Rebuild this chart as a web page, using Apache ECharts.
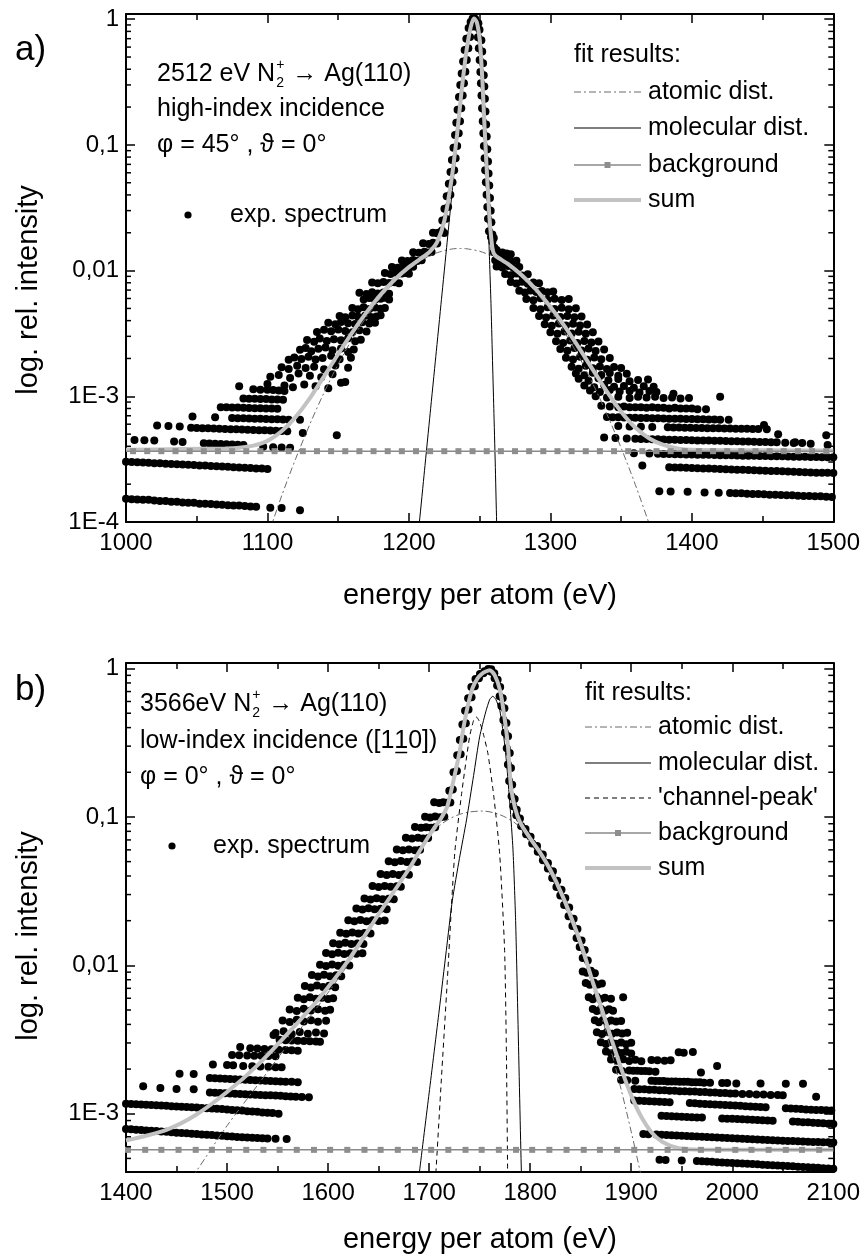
<!DOCTYPE html>
<html><head><meta charset="utf-8">
<script src="https://cdn.jsdelivr.net/npm/echarts@6/dist/echarts.min.js"></script>
<style>html,body{margin:0;padding:0;background:#fff}#c{width:863px;height:1256px}</style>
</head><body><div id="c"></div>
<script>
// ---------------- axis / tick data ----------------
const xRangeA = [1000, 1500];
const xRangeB = [1400, 2100];
const yRangeA = [1e-4, 1.1];
const yRangeB = [4.05e-4, 1.09];
const yTickExp = [-4, -3, -2, -1, 0];
const yTickText = ['1E-4', '1E-3', '0,01', '0,1', '1'];
const yMinorTicks = [2e-4,3e-4,4e-4,5e-4,6e-4,7e-4,8e-4,9e-4,2e-3,3e-3,4e-3,5e-3,6e-3,7e-3,8e-3,9e-3,0.02,0.03,0.04,0.05,0.06,0.07,0.08,0.09,0.2,0.3,0.4,0.5,0.6,0.7,0.8,0.9];

// ---------------- panel a: fit curves ----------------
const atomicA = [[1098,0.000066],[1100,0.000076],[1110,0.000161],[1120,0.00032],[1130,0.0006],[1140,0.00107],[1150,0.0018],[1160,0.00286],[1170,0.00428],[1180,0.00607],[1190,0.00813],[1200,0.01028],[1210,0.0123],[1220,0.01388],[1230,0.01483],[1236.5,0.0150],[1240,0.01495],[1250,0.01425],[1260,0.01283],[1270,0.01091],[1280,0.00877],[1290,0.00667],[1300,0.00479],[1310,0.00324],[1320,0.00208],[1330,0.00126],[1340,0.00072],[1350,0.000389],[1360,0.000199],[1370,0.000096],[1372,0.000085]];
const molecularA = [[1205,0.000059],[1207.4,0.0001],[1211,0.000256],[1215,0.00073],[1219,0.00207],[1223,0.0059],[1227,0.0168],[1231,0.0477],[1234,0.105],[1237,0.24],[1240,0.48],[1242,0.68],[1244,0.88],[1246,1.0],[1248,0.93],[1250,0.68],[1251,0.48],[1252,0.30],[1253,0.165],[1254,0.09],[1255,0.05],[1256,0.026],[1257,0.012],[1258,0.0055],[1259,0.0021],[1260,0.0008],[1261,0.0003],[1262,0.0001],[1263,0.00004]];
const sumA = [[1000,0.000375],[1040,0.00038],[1070,0.000385],[1080,0.00039],[1090,0.000405],[1100,0.000442],[1110,0.000527],[1120,0.000686],[1130,0.000966],[1140,0.00144],[1150,0.00217],[1160,0.00323],[1170,0.00465],[1180,0.00644],[1190,0.0085],[1200,0.01065],[1210,0.01286],[1215,0.01425],[1220,0.0169],[1225,0.0248],[1230,0.052],[1234,0.12],[1237,0.255],[1240,0.495],[1242,0.695],[1244,0.895],[1246,1.015],[1248,0.945],[1250,0.695],[1251,0.495],[1252,0.315],[1253,0.18],[1254,0.105],[1255,0.064],[1256,0.0397],[1257,0.0257],[1258,0.019],[1259,0.0152],[1260,0.0137],[1262,0.0129],[1270,0.0113],[1280,0.00914],[1290,0.00704],[1300,0.00516],[1310,0.00361],[1320,0.00245],[1330,0.00163],[1340,0.00109],[1350,0.000755],[1360,0.000565],[1370,0.000462],[1380,0.00041],[1390,0.000385],[1400,0.000375],[1450,0.000372],[1500,0.00037]];
const bgLevelA = 3.66e-4;
const bgMarkersA = [1005,1015,1025,1035,1045,1055,1065,1075,1085,1095,1105,1115,1125,1135,1145,1155,1165,1175,1185,1195,1205,1215,1225,1235,1245,1255,1265,1275,1285,1295,1305,1315,1325,1335,1345,1355,1365,1375,1385,1395,1405,1415,1425,1435,1445,1455,1465,1475,1485,1495];

// ---------------- panel a: experimental points (intensity in units of 1E-4) ----------------
const expA_bandsLeft = [
[1000,1.53],[1004,1.52],[1008,1.51],[1012,1.50],[1016,1.50],[1020,1.48],[1024,1.47],[1028,1.47],[1032,1.45],[1036,1.45],[1040,1.43],[1044,1.42],[1048,1.42],[1052,1.40],[1056,1.40],[1060,1.39],[1064,1.38],[1068,1.37],[1072,1.36],[1076,1.35],[1080,1.35],[1084,1.34],[1088,1.33],[1092,1.32],[1102,1.30],[1110,1.29],[1123,1.24],
[1000,3.02],[1004,3.00],[1008,2.99],[1012,2.97],[1016,2.96],[1020,2.94],[1024,2.93],[1028,2.91],[1032,2.90],[1036,2.88],[1040,2.87],[1044,2.85],[1048,2.84],[1052,2.82],[1056,2.81],[1060,2.79],[1064,2.78],[1068,2.76],[1072,2.75],[1076,2.73],[1080,2.72],[1084,2.70],[1088,2.69],[1092,2.67],[1096,2.66],[1100,2.64],
[1006,4.50],[1013,4.48],[1020,4.46],[1034,4.36],[1040,4.33],[1055,4.24],[1059,4.22],[1063,4.20],[1067,4.18],[1071,4.16],[1075,4.14],[1079,4.12],[1083,4.10],[1097,3.97],[1104,3.94],[1110,3.92],[1116,3.90],
[1022,5.85],[1030,5.80],[1038,5.75],[1046,5.62],[1050,5.60],[1054,5.58],[1058,5.56],[1062,5.54],[1066,5.52],[1070,5.50],[1074,5.48],[1078,5.46],[1082,5.44],[1086,5.42],[1090,5.40],[1094,5.38],[1098,5.36],[1102,5.34],[1106,5.32],[1110,5.30],[1114,5.28],[1125,5.10],
[1047,6.90],[1063,6.80],[1075,6.72],[1079,6.70],[1083,6.68],[1087,6.66],[1091,6.64],[1095,6.62],[1099,6.60],[1103,6.58],[1107,6.56],[1111,6.54],[1115,6.52],[1123,6.50],
[1067,8.20],[1071,8.18],[1075,8.15],[1079,8.13],[1083,8.10],[1087,8.08],[1091,8.05],[1095,8.03],[1099,8.00],[1103,7.98],[1107,7.95],
[1083,9.60],[1087,9.55],[1091,9.55],[1095,9.50],[1099,9.50],[1103,9.45],[1107,9.45],[1111,9.40],
[1080,12.0],[1090,11.4],[1095,11.3],[1100,11.3],[1104,11.2],[1108,11.1],[1112,11.0],[1149,4.9]];
const expA_cloudLeft = [
[1100,12.5],[1112,12.2],[1118,11.8],[1126,12.4],[1134,12.0],[1143,11.6],[1152,12.8],
[1102,14.3],[1108,14.8],[1116,14.0],[1122,15.2],[1130,14.6],[1138,14.2],[1146,15.0],[1155,13.0],
[1110,17.0],[1115,16.5],[1121,17.5],[1127,16.8],[1133,17.2],[1140,16.4],[1148,17.6],[1157,16.9],
[1115,19.5],[1119,20.4],[1124,19.8],[1129,20.6],[1134,19.6],[1139,20.2],[1145,21.0],[1151,19.7],[1159,20.3],
[1123,23.5],[1127,24.2],[1131,22.8],[1136,23.9],[1141,24.5],[1146,23.2],[1152,24.0],[1157,22.5],[1161,23.6],
[1128,28.0],[1133,27.2],[1137,28.8],[1142,27.6],[1147,28.5],[1152,27.9],[1157,29.0],[1162,27.4],[1166,28.2],
[1135,32.5],[1140,33.8],[1145,32.9],[1150,34.0],[1155,33.1],[1160,32.4],[1165,33.6],[1170,32.8],
[1143,38.5],[1148,37.4],[1152,39.0],[1157,38.2],[1162,37.6],[1167,38.9],[1172,37.9],[1176,38.4],
[1151,43.5],[1155,42.6],[1160,44.0],[1164,42.9],[1169,43.8],[1173,42.7],[1177,43.2],[1180,44.1],
[1160,50.5],[1164,49.2],[1168,51.0],[1172,49.6],[1176,50.8],[1180,49.8],[1183,50.3],
[1168,59.0],[1172,60.5],[1176,58.6],[1180,59.8],[1183,60.7],[1186,58.9],
[1165,66.5],[1170,65.2],[1174,67.3],[1178,65.8],[1182,66.9],[1186,65.5],
[1174,80.5],[1178,79.2],[1182,81.3],[1186,79.8],[1190,80.9],[1193,79.5],
[1183,95.5],[1187,94.0],[1191,96.2],[1195,94.8],[1198,95.7],[1200,94.5],
[1188,107],[1192,105.5],[1196,108],[1200,106],[1203,107.5],
[1195,120.5],[1199,119],[1203,121.5],[1206,119.5],[1209,120.8],
[1203,140],[1207,138.5],[1211,141.5],[1214,139.2],[1216,140.8],
[1210,165],[1214,163],[1217,166.5],[1220,164.2],
[1217,200],[1220,198],[1223,203],[1225,199]];
const expA_peak = [
[1220.8,200],[1223.4,208],[1223.6,250],[1226.2,258],[1225.1,310],[1227.7,320],[1226.7,390],[1229.3,402],[1228.2,490],[1230.8,505],[1229.4,610],[1232.0,628],[1230.4,760],[1233.0,783],[1231.5,950],[1234.1,978],[1232.6,1200],[1235.2,1236],[1233.5,1500],[1236.1,1545],[1234.4,1900],[1237.0,1957],[1235.4,2400],[1238.0,2472],[1236.3,3000],[1238.9,3090],[1237.3,3700],[1239.9,3811],[1238.3,4600],[1240.9,4738],[1239.4,5700],[1242.0,5871],[1240.6,7000],[1243.2,7210],[1242.2,8500],[1244.8,8755],[1243.6,9500],[1246.0,9700],[1245.0,10150],[1246.8,10100],
[1246.7,9650],[1249.1,9300],[1247.5,8700],[1249.9,8250],[1248.8,7200],[1251.2,6800],[1249.4,5870],[1251.8,5530],[1250.0,4740],[1252.4,4460],[1250.5,3810],[1252.9,3590],[1250.9,3090],[1253.3,2910],[1251.3,2470],[1253.7,2330],[1251.7,1960],[1254.1,1840],[1252.2,1545],[1254.6,1455],[1252.6,1236],[1255.0,1164],[1253.0,978],[1255.4,922],[1253.5,783],[1255.9,737],[1253.9,628],[1256.3,592],[1254.4,505],[1256.8,475],[1254.9,402],[1257.3,378],[1255.4,320],[1257.8,300],[1255.9,258],[1258.3,242],[1256.6,206],[1259.0,194]];
const expA_cloudRight = [
[1258,185],[1260,182],[1259,170],[1260.5,152],[1262,146],[1264,131],[1267,128],[1270,125],
[1260,140],[1263,136],[1266,139],[1269,137],[1272,135],
[1261,121],[1265,119],[1269,122],[1273,118],[1276,120],
[1262,108],[1266,106],[1270,109],[1274,105],[1278,107],
[1268,94],[1272,92],[1276,95],[1280,91.5],[1284,93.5],
[1272,81],[1276,79],[1280,81.5],[1284,78.5],[1288,80.5],[1292,79.2],
[1278,69],[1282,67],[1286,69.5],[1290,67.5],[1294,68.8],[1298,67.2],[1302,68.3],
[1283,59.5],[1288,58.2],[1293,60.2],[1298,58.6],[1303,59.8],[1308,58.3],[1313,59.4],
[1288,50.5],[1293,49.2],[1298,51],[1303,49.5],[1308,50.6],[1313,49.3],[1318,50.2],
[1292,43.5],[1297,42.4],[1302,44],[1307,42.7],[1312,43.6],[1317,42.5],[1322,43.2],
[1296,37.5],[1301,36.4],[1306,37.9],[1311,36.6],[1316,37.7],[1321,36.5],[1326,37.2],
[1300,32.4],[1305,31.5],[1310,32.8],[1315,31.6],[1320,32.6],[1325,31.4],[1330,32.3],
[1304,27.4],[1309,26.6],[1314,27.8],[1319,26.5],[1324,27.6],[1329,26.8],[1334,27.3],
[1307,23.8],[1312,23.0],[1317,24.2],[1322,23.1],[1327,24.0],[1332,22.9],[1338,23.6],
[1311,20.3],[1316,19.6],[1321,20.6],[1326,19.5],[1331,20.4],[1336,19.7],[1342,20.2],
[1315,17.2],[1320,16.6],[1325,17.5],[1330,16.7],[1335,17.3],[1340,16.5],[1345,17.1],[1350,16.8],
[1318,15.2],[1324,14.7],[1330,15.4],[1336,14.8],[1342,15.3],[1348,14.6],[1354,15.1],
[1320,13.8],[1327,13.3],[1334,13.9],[1341,13.4],[1348,13.7],[1356,13.2],[1362,13.5],[1369,13.6],
[1324,12.2],[1331,11.8],[1338,12.3],[1345,11.9],[1352,12.1],[1359,11.7],[1366,12.0],[1373,11.9],
[1328,11.1],[1335,10.8],[1342,11.2],[1349,10.9],[1356,11.0],[1363,10.7],[1370,11.0],[1375,10.8],[1387,10.5]];
const expA_bandsRight = [
[1332,10.0],[1340,9.8],[1348,9.9],[1356,9.7],[1362,9.9],[1368,9.8],[1374,9.9],[1380,9.7],[1386,9.8],[1392,9.6],[1398,9.7],[1420,9.9],
[1336,8.4],[1342,8.3],[1348,8.2],[1352,8.3],[1356,8.2],[1360,8.2],[1364,8.2],[1368,8.1],[1372,8.2],[1376,8.1],[1380,8.1],[1384,8.0],[1388,8.1],[1392,8.0],[1396,8.0],[1400,8.0],[1404,7.9],[1410,7.9],
[1340,6.85],[1344,6.80],[1348,6.82],[1352,6.78],[1356,6.76],[1360,6.74],[1364,6.72],[1368,6.72],[1372,6.70],[1376,6.68],[1380,6.66],[1384,6.64],[1388,6.64],[1392,6.62],[1396,6.60],[1400,6.60],[1404,6.58],[1408,6.56],[1412,6.55],[1416,6.54],[1420,6.52],[1426,6.50],
[1451,5.9],[1461,5.0],[1473,4.3],[1495,4.9],[1496,4.1],
[1348,5.80],[1356,5.75],[1364,5.72],[1372,5.70],[1383,5.66],[1387,5.65],[1391,5.64],[1395,5.63],[1399,5.62],[1403,5.60],[1407,5.59],[1411,5.58],[1415,5.57],[1419,5.56],[1423,5.55],[1427,5.54],[1431,5.53],[1435,5.52],[1439,5.51],[1443,5.50],[1447,5.49],[1453,5.48],
[1338,4.70],[1346,4.65],[1354,4.62],[1360,4.60],[1364,4.58],[1368,4.57],[1372,4.56],[1376,4.55],[1380,4.54],[1384,4.52],[1388,4.51],[1392,4.50],[1396,4.49],[1400,4.48],[1404,4.46],[1408,4.45],[1412,4.44],[1416,4.43],[1420,4.42],[1424,4.40],[1428,4.39],[1432,4.38],[1436,4.37],[1440,4.36],[1444,4.34],[1448,4.33],[1452,4.32],[1456,4.31],[1460,4.30],[1466,4.28],[1472,4.26],[1478,4.25],[1484,4.20],
[1359,3.52],[1370,3.50],[1376,3.49],[1380,3.48],[1384,3.47],[1388,3.46],[1392,3.46],[1396,3.45],[1400,3.44],[1404,3.43],[1408,3.43],[1412,3.42],[1416,3.41],[1420,3.40],[1424,3.40],[1428,3.39],[1432,3.38],[1436,3.37],[1440,3.37],[1444,3.36],[1448,3.35],[1452,3.35],[1456,3.34],[1460,3.33],[1464,3.33],[1468,3.32],[1472,3.31],[1476,3.31],[1480,3.30],[1484,3.29],[1488,3.29],[1492,3.28],[1496,3.27],[1500,3.27],
[1365,2.82],[1384,2.73],[1388,2.72],[1392,2.71],[1396,2.70],[1400,2.69],[1404,2.68],[1408,2.67],[1412,2.66],[1416,2.65],[1420,2.64],[1424,2.63],[1428,2.62],[1432,2.61],[1436,2.60],[1440,2.59],[1444,2.58],[1448,2.57],[1452,2.56],[1456,2.55],[1460,2.54],[1464,2.53],[1468,2.52],[1472,2.51],[1476,2.50],[1480,2.49],[1484,2.48],[1488,2.47],[1492,2.46],[1496,2.46],[1500,2.45],
[1377,1.76],[1385,1.75],[1397,1.74],[1409,1.72],[1419,1.71],[1427,1.70],[1431,1.69],[1435,1.69],[1439,1.68],[1443,1.67],[1447,1.67],[1451,1.66],[1455,1.65],[1459,1.65],[1463,1.64],[1467,1.63],[1471,1.63],[1475,1.62],[1479,1.61],[1483,1.61],[1487,1.60],[1491,1.60],[1495,1.59],[1499,1.58]];

// ---------------- panel b: fit curves ----------------
const atomicB = [[1440,0.00021],[1469,0.000404],[1500,0.00083],[1530,0.00155],[1560,0.0029],[1590,0.0053],[1620,0.0102],[1650,0.0215],[1680,0.044],[1700,0.073],[1710,0.087],[1720,0.097],[1730,0.104],[1740,0.108],[1753,0.1096],[1770,0.1035],[1786,0.090],[1800,0.0711],[1820,0.0433],[1840,0.0209],[1860,0.00785],[1870,0.00469],[1880,0.00267],[1890,0.00146],[1900,0.000757],[1909,0.000404],[1915,0.00026]];
const molecularB = [[1686,0.00022],[1690.4,0.000404],[1700,0.00138],[1710,0.005],[1717,0.0126],[1723,0.0275],[1730,0.0525],[1737,0.0955],[1744,0.19],[1750,0.347],[1756,0.51],[1760,0.62],[1763,0.65],[1766,0.62],[1770,0.52],[1774,0.34],[1776.4,0.24],[1780,0.12],[1783,0.06],[1785.6,0.02],[1788,0.004],[1791.3,0.000404],[1793,0.0002]];
const channelB = [[1705,0.0003],[1706.7,0.000404],[1712,0.00166],[1718,0.0079],[1725.3,0.0565],[1732,0.141],[1740,0.346],[1744,0.447],[1746.7,0.472],[1750,0.437],[1754,0.355],[1758.2,0.267],[1764,0.138],[1769.8,0.0565],[1774.7,0.0126],[1776.5,0.0025],[1777.7,0.000404],[1778.5,0.00016]];
const sumB = [[1400,0.00066],[1440,0.00078],[1469,0.00098],[1500,0.0014],[1530,0.00212],[1560,0.00347],[1590,0.00587],[1620,0.0108],[1650,0.0221],[1680,0.0446],[1690,0.058],[1700,0.075],[1706,0.086],[1712,0.0985],[1718,0.118],[1724,0.175],[1730,0.27],[1734,0.40],[1738,0.55],[1743,0.74],[1748,0.86],[1752,0.92],[1756,0.955],[1760,0.975],[1765,0.90],[1770,0.72],[1774,0.50],[1778,0.30],[1781,0.16],[1785,0.115],[1790,0.092],[1800,0.0717],[1810,0.0573],[1820,0.0439],[1832,0.0294],[1845,0.0175],[1854,0.0116],[1862,0.0077],[1870,0.0053],[1881,0.0031],[1892,0.00185],[1900,0.00133],[1909,0.00098],[1920,0.00075],[1931,0.000645],[1947,0.000585],[1970,0.000572],[2100,0.000571]];
const bgLevelB = 5.71e-4;
const bgMarkersB = [1402,1419,1435,1452,1469,1485,1502,1519,1536,1552,1569,1586,1602,1619,1636,1652,1669,1686,1702,1719,1736,1752,1769,1786,1802,1819,1836,1853,1869,1886,1903,1919,1936,1953,1969,1986,2003,2019,2036,2053,2069,2086];

// ---------------- panel b: experimental points (units of 1E-4) ----------------
const expB_bandsLeft = [
[1400,7.90],[1405,7.85],[1410,7.80],[1415,7.76],[1420,7.72],[1425,7.68],[1430,7.64],[1435,7.60],[1440,7.55],[1445,7.50],[1450,7.46],[1455,7.42],[1460,7.38],[1465,7.34],[1470,7.30],[1475,7.26],[1480,7.22],[1485,7.18],[1490,7.14],[1495,7.10],[1500,7.06],[1505,7.02],[1510,6.98],[1515,6.95],[1520,6.92],[1525,6.89],[1530,6.86],[1535,6.83],[1540,6.80],[1548,6.78],[1559,6.75],
[1400,11.7],[1405,11.65],[1410,11.6],[1415,11.55],[1420,11.5],[1425,11.45],[1430,11.4],[1435,11.35],[1440,11.3],[1445,11.25],[1450,11.2],[1455,11.15],[1460,11.1],[1465,11.05],[1470,11.0],[1475,10.95],[1480,10.9],[1485,10.85],[1490,10.8],[1495,10.75],[1500,10.7],[1505,10.6],[1510,10.55],[1515,10.5],[1520,10.4],[1525,10.35],[1530,10.3],[1535,10.2],[1540,10.15],[1545,10.1],[1551,10.0],
[1417,15.3],[1434,14.9],[1450,14.7],[1467,14.6],[1483,13.9],[1488,13.85],[1493,13.8],[1498,13.75],[1503,13.7],[1508,13.65],[1513,13.6],[1518,13.55],[1523,13.5],[1528,13.45],[1533,13.4],[1538,13.35],[1543,13.3],[1548,13.25],[1553,13.2],[1558,13.1],[1563,13.05],[1568,13.0],[1574,12.95],[1581,12.9],
[1453,18.6],[1467,18.5],[1483,17.4],[1488,17.35],[1493,17.3],[1498,17.2],[1503,17.15],[1508,17.1],[1513,17.0],[1518,16.95],[1523,16.9],[1528,16.8],[1533,16.75],[1538,16.7],[1543,16.6],[1548,16.55],[1553,16.5],[1558,16.45],[1564,16.4],[1570,16.3],
[1486,21.5],[1500,21.3],[1506,21.2],[1516,21.0],[1525,20.9],[1533,20.8],[1541,20.7],[1548,20.6],[1554,20.6],
[1505,24.9],[1512,24.8],[1520,24.7],[1527,24.6],[1534,24.6],[1541,24.5],[1548,24.4],
[1513,28.2],[1523,27.6],[1530,27.5],[1537,27.3],[1544,27.2],[1551,27.0],[1558,26.9],[1564,26.8],[1570,26.6],
[1546,34.0],[1552,31.5],[1558,31.3],[1564,31.2],[1570,31.0],[1576,30.9],[1582,30.8],[1588,30.7],[1592,30.6]];
const expB_cloudLeft = [
[1548,35],[1556,36],[1564,34.5],[1572,35.5],[1580,34.6],[1588,35.3],[1596,34.8],
[1555,42.5],[1562,41.5],[1569,43],[1576,41.8],[1583,42.6],[1590,41.7],[1598,42.3],
[1562,50.5],[1569,49.3],[1576,51],[1583,49.6],[1590,50.7],[1597,49.5],[1602,50.2],
[1570,60.5],[1576,59.2],[1582,61],[1588,59.5],[1594,60.6],[1600,59.4],[1605,60.1],
[1577,72.5],[1583,71],[1589,73.2],[1595,71.5],[1601,72.8],[1607,71.3],
[1584,86],[1590,84.2],[1596,86.5],[1602,84.5],[1608,85.8],[1613,84.6],
[1592,101],[1598,99],[1604,101.5],[1610,99.5],[1616,100.8],[1621,99.6],
[1598,121],[1604,119],[1610,121.5],[1616,119.2],[1622,120.8],[1628,119.5],[1634,120.5],
[1605,141],[1611,139],[1617,141.8],[1623,139.2],[1629,140.6],[1635,139.5],
[1612,166],[1618,163.5],[1624,166.8],[1630,164],[1636,165.5],[1642,164.2],
[1620,201],[1626,198],[1632,202],[1638,198.5],[1644,201.2],[1650,199],[1656,200.5],
[1628,242],[1634,238],[1640,243],[1646,238.5],[1652,241],[1658,239],
[1636,282],[1642,278],[1648,283],[1654,278.5],[1660,281],[1665,279],
[1644,342],[1650,337],[1656,343],[1662,338],[1668,341],[1672,339],
[1652,412],[1658,406],[1664,413],[1670,407],[1675,411],[1680,408],
[1660,503],[1666,496],[1672,504],[1678,497],[1683,501],[1688,498],
[1668,603],[1674,596],[1680,604],[1686,597],[1691,601],
[1677,724],[1683,715],[1689,725],[1694,716],[1699,721],
[1686,855],[1692,845],[1697,853],[1702,846],[1706,851],
[1696,1005],[1701,992],[1706,1008],[1711,995],[1715,1002],
[1705,1255],[1710,1240],[1714,1258],[1718,1245],[1721,1250]];
const expB_peak = [
[1720,1500],[1723.4,1530],[1724.1,2000],[1727.5,2040],[1727.8,2600],[1731.2,2650],[1730.4,3300],[1733.8,3360],[1732.9,4200],[1736.3,4280],[1735.6,5200],[1739,5300],[1738.6,6300],[1742,6400],[1741.8,7500],[1745.2,7600],[1745.9,8500],[1749.3,8600],[1750.3,9200],[1753.7,9300],[1754.8,9600],[1758.2,9700],[1758.5,9950],[1761.5,9900],
[1761.5,9500],[1764.5,9300],[1764.8,8600],[1767.8,8400],[1767.3,7700],[1770.3,7500],[1769.8,6500],[1772.8,6300],[1771.5,5600],[1774.5,5400],[1773.5,4500],[1776.5,4300],[1775.1,3700],[1778.1,3500],[1776.8,2900],[1779.8,2700],[1778,2260],[1781,2140],[1779.2,1750],[1782.2,1650],[1781.6,1380],[1784.6,1320],[1783.3,1180],[1786.7,1120],[1786.3,1025],[1789.9,975],[1791,870],[1795.4,830],[1796,765],[1800.4,735],[1802,663],[1806.8,637],[1807.5,582],[1812.5,558],[1812.6,510],[1817.6,490],[1817.5,449],[1822.5,431],[1821.8,388],[1826.8,372],[1826,337],[1831,323],[1829.8,296],[1834.8,284],[1833.6,255],[1838.6,245],[1838,214],[1843,206],[1841.8,184],[1846.8,176],[1845.9,153],[1850.9,147],[1849,133],[1854,127],[1852,112],[1857,108]];
const expB_cloudRight = [
[1852,91],[1856,89],[1860,92],[1864,88.5],
[1855,76],[1859,74],[1863,76.5],[1867,74.2],[1871,75.5],
[1858,61],[1862,59],[1866,61.5],[1870,59.3],[1874,60.6],[1880,59.5],[1892,61],
[1862,50.8],[1866,49.3],[1870,51],[1874,49.5],[1878,50.6],[1882,49.4],
[1864,42.6],[1868,41.4],[1872,42.8],[1876,41.6],[1880,42.5],[1885,41.8],[1890,42.2],
[1866,35.4],[1871,34.5],[1876,35.6],[1881,34.6],[1886,35.3],[1891,34.7],[1896,35.1],
[1870,30.3],[1875,29.5],[1880,30.5],[1885,29.6],[1890,30.2],[1895,29.4],[1900,30.1],
[1875,26.3],[1880,25.6],[1885,26.5],[1890,25.7],[1895,26.2],[1900,25.5],[1947,26.0],[1952,25.8],[1961,26.1]];
const expB_bandsRight = [
[1880,23.2],[1886,22.8],[1892,23.3],[1898,22.7],[1904,23.1],[1910,22.6],[1920,23.0],[1926,22.9],[1933,22.8],[1939,22.9],
[1885,19.8],[1891,19.4],[1898,19.6],[1902,19.5],[1906,19.5],[1910,19.4],[1914,19.4],[1918,19.3],[1924,19.2],[1969,19.0],[1985,21.0],
[1890,16.9],[1896,16.8],[1904,16.7],[1920,16.7],[1924,16.6],[1928,16.6],[1932,16.6],[1936,16.5],[1940,16.5],[1944,16.5],[1948,16.4],[1952,16.4],[1956,16.4],[1960,16.3],[1964,16.3],[1968,16.3],[1972,16.2],[1978,16.2],[1990,16.1],[1995,16.1],[2004,16.0],[2028,16.0],[2053,15.9],[2070,15.9],
[1903,14.7],[1908,14.6],[1913,14.6],[1918,14.5],[1923,14.5],[1928,14.4],[1933,14.4],[1938,14.3],[1943,14.3],[1948,14.2],[1953,14.2],[1958,14.1],[1963,14.1],[1968,14.0],[1973,14.0],[1978,13.9],[1983,13.9],[1988,13.8],[1993,13.8],[1998,13.7],[2003,13.7],[2010,13.6],[2017,13.6],[2024,13.5],[2031,13.5],[2038,13.4],[2045,13.4],[2050,13.3],[2083,13.0],
[1903,12.3],[1908,12.25],[1913,12.2],[1918,12.15],[1923,12.1],[1928,12.05],[1933,12.0],[1938,11.95],[1958,11.8],[1963,11.75],[1968,11.7],[1973,11.65],[1978,11.6],[1983,11.55],[1988,11.5],[1993,11.45],[1998,11.4],[2003,11.35],[2008,11.3],[2013,11.25],[2018,11.2],[2023,11.15],[2028,11.1],[2033,11.05],[2053,10.9],[2058,10.85],[2063,10.8],[2068,10.75],[2073,10.7],[2078,10.65],[2083,10.6],[2088,10.58],[2093,10.55],[2098,10.5],
[1930,9.7],[1935,9.66],[1940,9.62],[1945,9.58],[1950,9.55],[1955,9.52],[1960,9.48],[1965,9.45],[1970,9.42],[1990,9.3],[1995,9.27],[2000,9.24],[2005,9.2],[2010,9.17],[2015,9.14],[2020,9.1],[2025,9.07],[2030,9.04],[2035,9.0],[2040,8.97],[2060,8.85],[2065,8.82],[2070,8.78],[2075,8.75],[2080,8.7],[2085,8.67],[2090,8.62],[2095,8.57],[2100,8.52],
[1912,7.3],[1917,7.28],[1925,7.25],[1930,7.22],[1935,7.19],[1940,7.16],[1945,7.14],[1950,7.11],[1955,7.08],[1960,7.05],[1965,7.02],[1970,7.0],[1975,6.97],[1980,6.94],[1985,6.92],[1990,6.89],[1995,6.86],[2000,6.84],[2005,6.81],[2010,6.78],[2015,6.76],[2020,6.73],[2025,6.7],[2030,6.68],[2035,6.65],[2040,6.62],[2045,6.6],[2050,6.58],[2055,6.56],[2060,6.54],[2065,6.52],[2070,6.5],[2075,6.48],[2080,6.46],[2085,6.45],[2090,6.43],[2095,6.42],[2100,6.4],
[1928,4.9],[1934,4.88],[1950,4.85],[1965,4.8],[1970,4.78],[1975,4.76],[1980,4.74],[1985,4.72],[1990,4.7],[1995,4.68],[2000,4.66],[2005,4.64],[2010,4.62],[2015,4.6],[2020,4.58],[2025,4.56],[2030,4.54],[2035,4.52],[2040,4.5],[2045,4.48],[2050,4.46],[2055,4.44],[2060,4.42],[2065,4.4],[2070,4.38],[2075,4.36],[2080,4.34],[2085,4.32],[2090,4.3],[2095,4.28],[2100,4.26]];

// ---------------- build ----------------
const FF = '"Liberation Sans", Arial, Helvetica, sans-serif';
const ctx2d = document.createElement('canvas').getContext('2d');
function tw(t, size) { ctx2d.font = size + 'px ' + FF; return ctx2d.measureText(t).width; }
const toI = arr => arr.map(p => [p[0], p[1] * 1e-4]);
function yFmt(v) {
  const e = Math.log10(v), r = Math.round(e);
  if (Math.abs(e - r) > 1e-6) return '';
  const i = yTickExp.indexOf(r);
  return i >= 0 ? yTickText[i] : '';
}
const GRIDS = [{left:126, top:14, width:708, height:508}, {left:126, top:663, width:708, height:509}];

function xAxes(gi, range, pos) {
  return {
    gridIndex: gi, type: 'value', min: range[0], max: range[1], interval: 100, position: pos,
    axisLine: {show: true, onZero: false, lineStyle: {color: '#000', width: 2}},
    axisTick: {show: true, inside: true, length: 9, lineStyle: {color: '#000', width: 1.5}},
    minorTick: {show: true, splitNumber: 2, length: 6, lineStyle: {color: '#000', width: 1.5}},
    axisLabel: {show: pos === 'bottom', fontSize: 24, fontFamily: FF, color: '#000', margin: 9,
      formatter: v => String(Math.round(v))},
    splitLine: {show: false}, minorSplitLine: {show: false}
  };
}
function yAxes(gi, range, pos) {
  return {
    gridIndex: gi, type: 'log', logBase: 10, min: range[0], max: range[1], position: pos,
    axisLine: {show: true, onZero: false, lineStyle: {color: '#000', width: 2}},
    axisTick: {show: true, inside: true, length: 9, lineStyle: {color: '#000', width: 1.5}},
    axisLabel: {show: pos === 'left', fontSize: 24, fontFamily: FF, color: '#000', margin: 7, formatter: yFmt},
    splitLine: {show: false}
  };
}
function minorSeries(idx, xr, yr) {
  return {
    type: 'custom', xAxisIndex: idx * 2, yAxisIndex: idx * 2, silent: true, z: 10, clip: false,
    data: yMinorTicks.filter(v => v > yr[0] && v < yr[1]).map(v => [xr[0], v]),
    renderItem: function (params, api) {
      const cs = params.coordSys;
      const y = api.coord([api.value(0), api.value(1)])[1];
      const st = {stroke: '#000', lineWidth: 1.5};
      return {type: 'group', children: [
        {type: 'line', shape: {x1: cs.x, y1: y, x2: cs.x + 5, y2: y}, style: st},
        {type: 'line', shape: {x1: cs.x + cs.width - 5, y1: y, x2: cs.x + cs.width, y2: y}, style: st}
      ]};
    }
  };
}
function bgData(xr, markers, level) {
  const d = [{value: [xr[0], level], symbol: 'none'}];
  markers.forEach(x => d.push([x, level]));
  d.push({value: [xr[1], level], symbol: 'none'});
  return d;
}
function panelSeries(idx, xr, yr, exp, atomic, molecular, channel, sum, bgMark, bgLevel) {
  const ax = {xAxisIndex: idx * 2, yAxisIndex: idx * 2};
  const s = [];
  s.push(Object.assign({type: 'scatter', name: 'exp. spectrum', data: toI(exp), symbol: 'circle', symbolSize: 8,
    itemStyle: {color: '#000', opacity: 1}, z: 2, silent: true}, ax));
  s.push(Object.assign({type: 'line', name: 'atomic dist.', data: atomic, symbol: 'none', smooth: 0.3,
    lineStyle: {color: '#6a6a6a', width: 1, type: [7, 3, 2, 3]}, z: 3, silent: true}, ax));
  s.push(Object.assign({type: 'line', name: 'molecular dist.', data: molecular, symbol: 'none', smooth: 0.2,
    lineStyle: {color: '#000', width: 1}, z: 3, silent: true}, ax));
  if (channel) s.push(Object.assign({type: 'line', name: "'channel-peak'", data: channel, symbol: 'none', smooth: 0.2,
    lineStyle: {color: '#000', width: 1, type: [5, 4]}, z: 3, silent: true}, ax));
  s.push(Object.assign({type: 'line', name: 'sum', data: sum, symbol: 'none', smooth: 0.25,
    lineStyle: {color: '#c2c2c2', width: 4}, z: 4, silent: true}, ax));
  s.push(Object.assign({type: 'line', name: 'background', data: bgData(xr, bgMark, bgLevel), symbol: 'rect', symbolSize: 6,
    itemStyle: {color: '#8e8e8e', opacity: 1}, lineStyle: {color: '#8a8a8a', width: 1.5}, z: 5, silent: true}, ax));
  s.push(minorSeries(idx, xr, yr));
  return s;
}

// graphic helpers
function T(x, y, text, size, align, rot) {
  const el = {type: 'text', x: x, y: y, z: 100, silent: true,
    style: {text: text, font: size + 'px ' + FF, fill: '#000', align: align || 'left', verticalAlign: 'middle',
            textAlign: align || 'left', textVerticalAlign: 'middle'}};
  if (rot) el.rotation = rot;
  return el;
}
function L(x1, y1, x2, y2, stroke, w, dash) {
  const el = {type: 'line', z: 100, silent: true, shape: {x1: x1, y1: y1, x2: x2, y2: y2}, style: {stroke: stroke, lineWidth: w}};
  if (dash) el.style.lineDash = dash;
  return el;
}
function mline(x, y, parts, size) {
  const els = []; let cx = x;
  parts.forEach(p => {
    if (typeof p === 'string') { els.push(T(cx, y, p, size)); cx += tw(p, size); }
    else if (p.sub) {
      const s = Math.round(size * 0.56);
      els.push(T(cx + 1, y + size * 0.38, p.sub, s));
      els.push(T(cx + 1, y - size * 0.36, p.sup, s));
      cx += Math.max(tw(p.sub, s), tw(p.sup, s)) + 2;
    } else if (p.ul) {
      els.push(T(cx, y, p.ul, size));
      const w = tw(p.ul, size);
      els.push(L(cx + 1, y + size * 0.46, cx + w - 1, y + size * 0.46, '#000', 1.5));
      cx += w;
    }
  });
  return els;
}
function fitLegend(x0, xt, yTitle, rows) {
  const els = [T(x0, yTitle, 'fit results:', 25)];
  rows.forEach(r => {
    const [kind, label, y] = r;
    if (kind === 'atomic') els.push(L(x0, y, xt - 7, y, '#6a6a6a', 1, [7, 3, 2, 3]));
    if (kind === 'molecular') els.push(L(x0, y, xt - 7, y, '#000', 1.2));
    if (kind === 'channel') els.push(L(x0, y, xt - 7, y, '#000', 1.2, [5, 4]));
    if (kind === 'background') {
      els.push(L(x0, y, xt - 7, y, '#8a8a8a', 1.5));
      const mx = (x0 + xt - 7) / 2;
      els.push({type: 'rect', z: 101, silent: true, shape: {x: mx - 3, y: y - 3, width: 6, height: 6}, style: {fill: '#8e8e8e'}});
    }
    if (kind === 'sum') els.push(L(x0, y, xt - 7, y, '#c2c2c2', 4));
    els.push(T(xt, y, label, 25));
  });
  return els;
}

const graphics = [].concat(
  [T(15, 50, 'a)', 35), T(15, 690, 'b)', 35),
   T(29, 290, 'log. rel. intensity', 29, 'center', Math.PI / 2),
   T(29, 936, 'log. rel. intensity', 29, 'center', Math.PI / 2),
   T(480, 596, 'energy per atom (eV)', 29, 'center'),
   T(480, 1240, 'energy per atom (eV)', 29, 'center')],
  mline(157, 74, ['2512 eV N', {sub: '2', sup: '+'}, ' \u2192 Ag(110)'], 25),
  [T(157, 109, 'high-index incidence', 25), T(157, 145, '\u03C6 = 45\u00B0 , \u03D1 = 0\u00B0', 25),
   {type: 'circle', z: 100, silent: true, shape: {cx: 188, cy: 215, r: 3.6}, style: {fill: '#000'}},
   T(230, 215, 'exp. spectrum', 25)],
  fitLegend(574, 648, 55, [['atomic', 'atomic dist.', 92], ['molecular', 'molecular dist.', 128], ['background', 'background', 165], ['sum', 'sum', 200]]),
  mline(140, 704, ['3566eV N', {sub: '2', sup: '+'}, ' \u2192 Ag(110)'], 25),
  mline(140, 741, ['low-index incidence ([1', {ul: '1'}, '0])'], 25),
  [T(140, 777, '\u03C6 = 0\u00B0 , \u03D1 = 0\u00B0', 25),
   {type: 'circle', z: 100, silent: true, shape: {cx: 172, cy: 846, r: 3.6}, style: {fill: '#000'}},
   T(213, 846, 'exp. spectrum', 25)],
  fitLegend(585, 658, 693, [['atomic', 'atomic dist.', 727], ['molecular', 'molecular dist.', 763], ['channel', "'channel-peak'", 798], ['background', 'background', 833], ['sum', 'sum', 868]])
);

const chart = echarts.init(document.getElementById('c'), null, {renderer: 'canvas'});
chart.setOption({
  animation: false,
  backgroundColor: '#fff',
  grid: GRIDS,
  xAxis: [xAxes(0, xRangeA, 'bottom'), xAxes(0, xRangeA, 'top'), xAxes(1, xRangeB, 'bottom'), xAxes(1, xRangeB, 'top')],
  yAxis: [yAxes(0, yRangeA, 'left'), yAxes(0, yRangeA, 'right'), yAxes(1, yRangeB, 'left'), yAxes(1, yRangeB, 'right')],
  series: [].concat(
    panelSeries(0, xRangeA, yRangeA, [].concat(expA_bandsLeft, expA_cloudLeft, expA_peak, expA_cloudRight, expA_bandsRight),
      atomicA, molecularA, null, sumA, bgMarkersA, bgLevelA),
    panelSeries(1, xRangeB, yRangeB, [].concat(expB_bandsLeft, expB_cloudLeft, expB_peak, expB_cloudRight, expB_bandsRight),
      atomicB, molecularB, channelB, sumB, bgMarkersB, bgLevelB)
  ),
  graphic: {elements: graphics}
});
</script></body></html>
